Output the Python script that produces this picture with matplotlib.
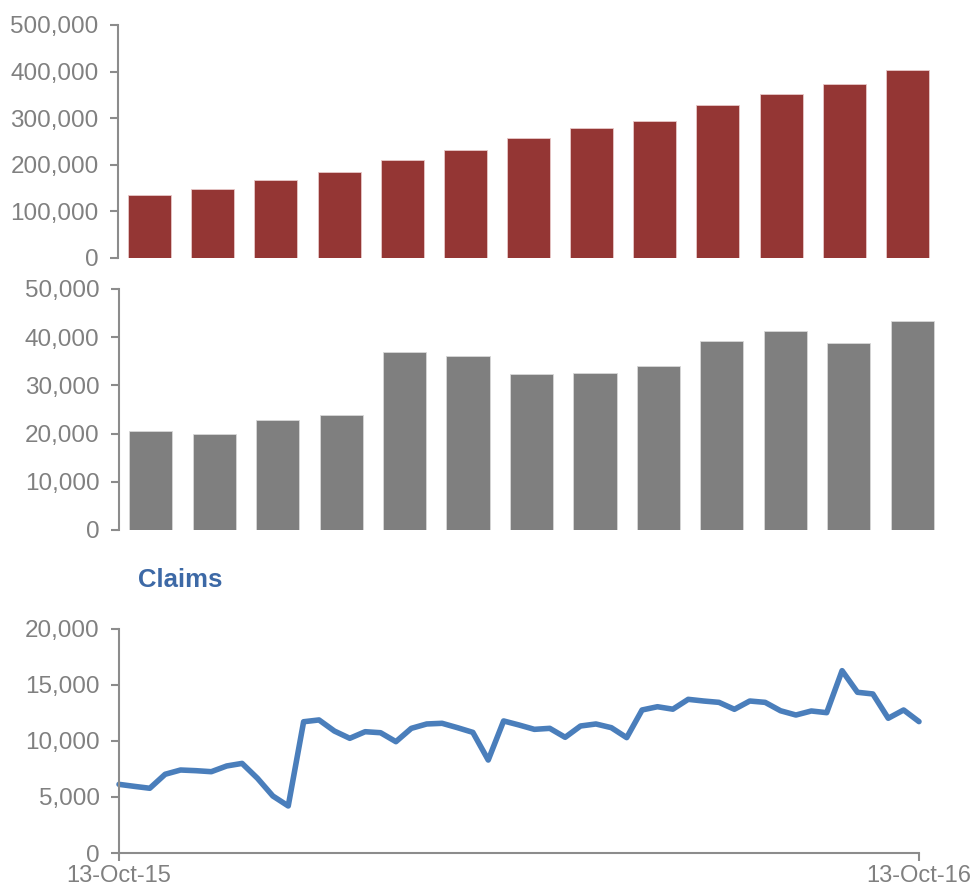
import matplotlib
matplotlib.use('Agg')
import matplotlib.pyplot as plt
import numpy as np
from matplotlib.ticker import FuncFormatter

plt.rcParams['font.family'] = ['Liberation Sans', 'DejaVu Sans']

# monthly totals
totals = [135000, 148000, 167000, 184500, 210000, 232000, 256700,
          279000, 295000, 329000, 353000, 373000, 402500]
# monthly new
monthly = [20600, 19900, 22900, 23800, 36900, 36100, 32400,
           32500, 34000, 39300, 41300, 38800, 43300]
# weekly claims
claims = [6130, 5950, 5780, 7030, 7410, 7350, 7260, 7770, 8000, 6670,
          5090, 4200, 11720, 11880, 10890, 10240, 10830, 10740, 9940, 11130,
          11520, 11580, 11190, 10770, 8300, 11790, 11430, 11040, 11130, 10330,
          11340, 11520, 11190, 10300, 12770, 13060, 12840, 13720, 13570, 13450,
          12830, 13570, 13450, 12700, 12320, 12680, 12530, 16280, 14350, 14200,
          12030, 12770, 11730]
date_labels = ['13-Oct-15', '13-Oct-16']

txt = '#808080'
spine = '#8c8c8c'
fmt = FuncFormatter(lambda v, p: f'{int(v):,}')

fig = plt.figure(figsize=(9.76, 8.91), dpi=100)

def style(ax, bottom=False):
    for s in ['top', 'right']:
        ax.spines[s].set_visible(False)
    ax.spines['bottom'].set_visible(bottom)
    ax.spines['left'].set_color(spine)
    ax.spines['left'].set_linewidth(1.5)
    ax.spines['bottom'].set_color(spine)
    ax.spines['bottom'].set_linewidth(1.5)
    ax.tick_params(axis='y', colors=spine, labelcolor=txt, labelsize=17.5,
                   length=6, width=1.5, pad=8)
    ax.yaxis.set_major_formatter(fmt)

ax1 = fig.add_axes([118/976, 1-258/891, 821/976, 233/891])
x1 = np.arange(len(totals))
ax1.bar(x1, totals, width=0.68, color='#943634', edgecolor='#e8c8c8', linewidth=0.6)
ax1.set_xlim(-0.5, len(totals)-0.5)
ax1.set_ylim(0, 500000)
ax1.set_yticks(np.arange(0, 500001, 100000))
ax1.set_xticks([])
style(ax1)

ax2 = fig.add_axes([119/976, 1-530/891, 825/976, 241/891])
x2 = np.arange(len(monthly))
ax2.bar(x2, monthly, width=0.68, color='#7f7f7f', edgecolor='#d8d8d8', linewidth=0.6)
ax2.set_xlim(-0.5, len(monthly)-0.5)
ax2.set_ylim(0, 50000)
ax2.set_yticks(np.arange(0, 50001, 10000))
ax2.set_xticks([])
style(ax2)

ax3 = fig.add_axes([119/976, 1-853/891, 800/976, 224/891])
x3 = np.arange(len(claims))
ax3.plot(x3, claims, color='#4a7ebb', linewidth=4.0, solid_joinstyle='round',
         solid_capstyle='round', clip_on=False)
ax3.set_xlim(0, len(claims)-1)
ax3.set_ylim(0, 20000)
ax3.set_yticks(np.arange(0, 20001, 5000))
ax3.set_xticks([0, len(claims)-1])
ax3.set_xticklabels(date_labels)
style(ax3, bottom=True)
ax3.tick_params(axis='x', colors=spine, labelcolor=txt, labelsize=17,
                length=6, width=1.5, pad=3)

fig.text(180/976, 1-580/891, 'Claims', color='#3d69a6', fontsize=18.5,
         fontweight='bold', ha='center', va='center')

fig.savefig('out.png', dpi=100)
